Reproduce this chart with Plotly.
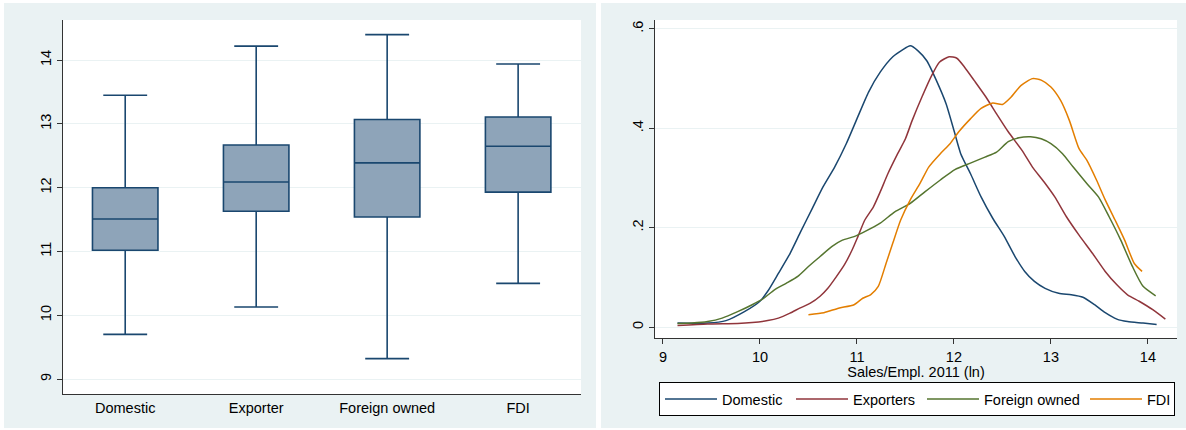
import plotly.graph_objects as go

W, H = 1186, 430

# Box plot summary statistics: Sales/Empl. 2011 (ln) by firm group
groups = ["Domestic", "Exporter", "Foreign owned", "FDI"]
lower_whisker = [9.70, 10.13, 9.32, 10.50]
q1 = [11.02, 11.63, 11.54, 11.93]
median = [11.51, 12.09, 12.39, 12.65]
q3 = [12.00, 12.67, 13.07, 13.11]
upper_whisker = [13.45, 14.22, 14.40, 13.94]

# Kernel density estimates of Sales/Empl. 2011 (ln)
dom_x = [9.15, 9.46, 9.65, 9.84, 10.0, 10.08, 10.19, 10.31, 10.42, 10.54, 10.65, 10.77, 10.89, 11.0,
         11.12, 11.24, 11.37, 11.47, 11.55, 11.63, 11.72, 11.82, 11.92, 12.0, 12.07, 12.17, 12.28,
         12.40, 12.52, 12.63, 12.73, 12.83, 12.94, 13.08, 13.21, 13.33, 13.45, 13.56, 13.68, 13.79,
         13.95, 14.09]
dom_y = [0.008, 0.008, 0.013, 0.031, 0.052, 0.072, 0.108, 0.148, 0.192, 0.239, 0.282, 0.322, 0.369,
         0.419, 0.473, 0.513, 0.544, 0.558, 0.566, 0.556, 0.536, 0.496, 0.449, 0.396, 0.349, 0.309,
         0.262, 0.219, 0.182, 0.142, 0.112, 0.092, 0.078, 0.068, 0.065, 0.060, 0.045, 0.029, 0.016,
         0.011, 0.008, 0.005]

exp_x = [9.15, 9.46, 9.77, 9.92, 10.08, 10.19, 10.31, 10.41, 10.52, 10.62, 10.70, 10.79, 10.87, 10.95,
         11.01, 11.08, 11.17, 11.24, 11.32, 11.42, 11.50, 11.57, 11.67, 11.77, 11.85, 11.95, 12.03,
         12.11, 12.21, 12.33, 12.44, 12.56, 12.70, 12.81, 12.93, 13.04, 13.16, 13.29, 13.43, 13.56,
         13.68, 13.79, 13.91, 14.05, 14.18]
exp_y = [0.003, 0.006, 0.007, 0.009, 0.013, 0.018, 0.028, 0.038, 0.048, 0.062, 0.078, 0.102, 0.125,
         0.155, 0.182, 0.215, 0.242, 0.272, 0.309, 0.349, 0.379, 0.416, 0.463, 0.506, 0.533, 0.544,
         0.541, 0.523, 0.496, 0.463, 0.429, 0.393, 0.356, 0.322, 0.292, 0.262, 0.222, 0.185, 0.148,
         0.112, 0.085, 0.065, 0.052, 0.035, 0.016]

for_x = [9.15, 9.30, 9.46, 9.61, 9.77, 9.92, 10.04, 10.15, 10.27, 10.39, 10.50, 10.62, 10.74, 10.85,
         10.97, 11.08, 11.24, 11.39, 11.55, 11.70, 11.86, 12.01, 12.17, 12.32, 12.44, 12.56, 12.67,
         12.79, 12.90, 13.00, 13.12, 13.23, 13.37, 13.49, 13.60, 13.72, 13.84, 13.95, 14.08]
for_y = [0.007, 0.008, 0.011, 0.018, 0.031, 0.045, 0.058, 0.075, 0.088, 0.102, 0.122, 0.142, 0.162,
         0.175, 0.182, 0.192, 0.209, 0.232, 0.249, 0.272, 0.296, 0.317, 0.330, 0.342, 0.352, 0.373,
         0.381, 0.383, 0.379, 0.369, 0.349, 0.322, 0.289, 0.262, 0.222, 0.175, 0.122, 0.082, 0.063]

fdi_x = [10.50, 10.66, 10.81, 10.97, 11.06, 11.14, 11.22, 11.30, 11.37, 11.45, 11.55, 11.65, 11.74,
         11.86, 11.96, 12.05, 12.17, 12.28, 12.40, 12.50, 12.59, 12.69, 12.81, 12.90, 13.00, 13.10,
         13.19, 13.29, 13.37, 13.47, 13.56, 13.66, 13.76, 13.86, 13.94]
fdi_y = [0.025, 0.029, 0.038, 0.045, 0.058, 0.065, 0.082, 0.128, 0.169, 0.215, 0.256, 0.289, 0.322,
         0.349, 0.369, 0.393, 0.419, 0.440, 0.451, 0.448, 0.463, 0.486, 0.500, 0.497, 0.483, 0.456,
         0.416, 0.359, 0.336, 0.296, 0.256, 0.216, 0.175, 0.128, 0.112]

density_names = ["Domestic", "Exporters", "Foreign owned", "FDI"]
density_x = [dom_x, exp_x, for_x, fdi_x]
density_y = [dom_y, exp_y, for_y, fdi_y]

# Stata s2color-like palette
NAVY = "#1A476F"
COLORS = ["#1A476F", "#90353B", "#55752F", "#E37E00"]
BOX_FILL = "#8EA4B9"
PANEL = "#EAF2F3"
AXIS = "#333333"
FONT = "Liberation Sans, Arial, sans-serif"
FS = 14.5

# legend entry text-slot widths (px)
LEGEND_SLOTS = [64, 64, 96, 22]

fig = go.Figure()

fig.add_trace(go.Box(
    x=groups, q1=q1, median=median, q3=q3,
    lowerfence=lower_whisker, upperfence=upper_whisker,
    width=0.5, whiskerwidth=0.67, boxpoints=False,
    fillcolor=BOX_FILL, line=dict(color=NAVY, width=1.6),
    showlegend=False, hoverinfo="skip", xaxis="x", yaxis="y",
))

for name, xs, ys, c, slot in zip(density_names, density_x, density_y, COLORS, LEGEND_SLOTS):
    fig.add_trace(go.Scatter(
        x=xs, y=ys, mode="lines", name=name, legendwidth=slot,
        line=dict(color=c, width=1.5, shape="spline", smoothing=0.6),
        xaxis="x2", yaxis="y2", hoverinfo="skip",
    ))

# Panel backgrounds and white plot regions
shapes = [
    dict(type="rect", xref="paper", yref="paper", x0=4 / W, x1=596 / W, y0=1 - 428 / H, y1=1 - 3 / H,
         fillcolor=PANEL, line=dict(width=0), layer="below"),
    dict(type="rect", xref="paper", yref="paper", x0=601 / W, x1=1.0, y0=1 - 428 / H, y1=1 - 3 / H,
         fillcolor=PANEL, line=dict(width=0), layer="below"),
    dict(type="rect", xref="x domain", yref="y domain", x0=0, x1=1, y0=0, y1=1,
         fillcolor="white", line=dict(width=0), layer="below"),
    dict(type="rect", xref="x2 domain", yref="y2 domain", x0=0, x1=1, y0=0, y1=1,
         fillcolor="white", line=dict(width=0), layer="below"),
]

common_axis = dict(
    showline=True, linecolor=AXIS, linewidth=1.2, zeroline=False,
    tickfont=dict(family=FONT, size=FS, color="black"),
    ticks="outside", ticklen=5, tickcolor=AXIS, tickwidth=1,
)

fig.update_layout(
    width=W, height=H,
    margin=dict(l=0, r=0, t=0, b=0),
    paper_bgcolor="white",
    plot_bgcolor="rgba(0,0,0,0)",
    font=dict(family=FONT, size=FS, color="black"),
    shapes=shapes,
    xaxis=dict(
        domain=[63 / W, 581 / W], anchor="y", type="category",
        range=[-0.475, 3.48], showgrid=False,
        **{**common_axis, "ticks": ""},
    ),
    yaxis=dict(
        domain=[1 - 394 / H, 1 - 20 / H], anchor="x",
        range=[8.765, 14.63], tickvals=[9, 10, 11, 12, 13, 14], tickangle=-90,
        showgrid=True, gridcolor=PANEL, gridwidth=1.2,
        **common_axis,
    ),
    xaxis2=dict(
        domain=[655 / W, 1177 / W], anchor="y2",
        range=[8.918, 14.30], tickvals=[9, 10, 11, 12, 13, 14], showgrid=False,
        title=dict(text="Sales/Empl. 2011 (ln)", standoff=0,
                   font=dict(family=FONT, size=FS, color="black")),
        **common_axis,
    ),
    yaxis2=dict(
        domain=[1 - 338 / H, 1 - 20 / H], anchor="x2",
        range=[-0.022, 0.618], tickvals=[0, 0.2, 0.4, 0.6], ticktext=["0", ".2", ".4", ".6"],
        tickangle=-90, showgrid=True, gridcolor=PANEL, gridwidth=1.2,
        **common_axis,
    ),
    legend=dict(
        orientation="h", x=659 / W, y=1 - 382 / H, xanchor="left", yanchor="top",
        bgcolor="white", bordercolor="black", borderwidth=1,
        font=dict(family=FONT, size=FS, color="black"),
        itemwidth=52, tracegroupgap=0,
    ),
)

fig.write_html("out.html")
